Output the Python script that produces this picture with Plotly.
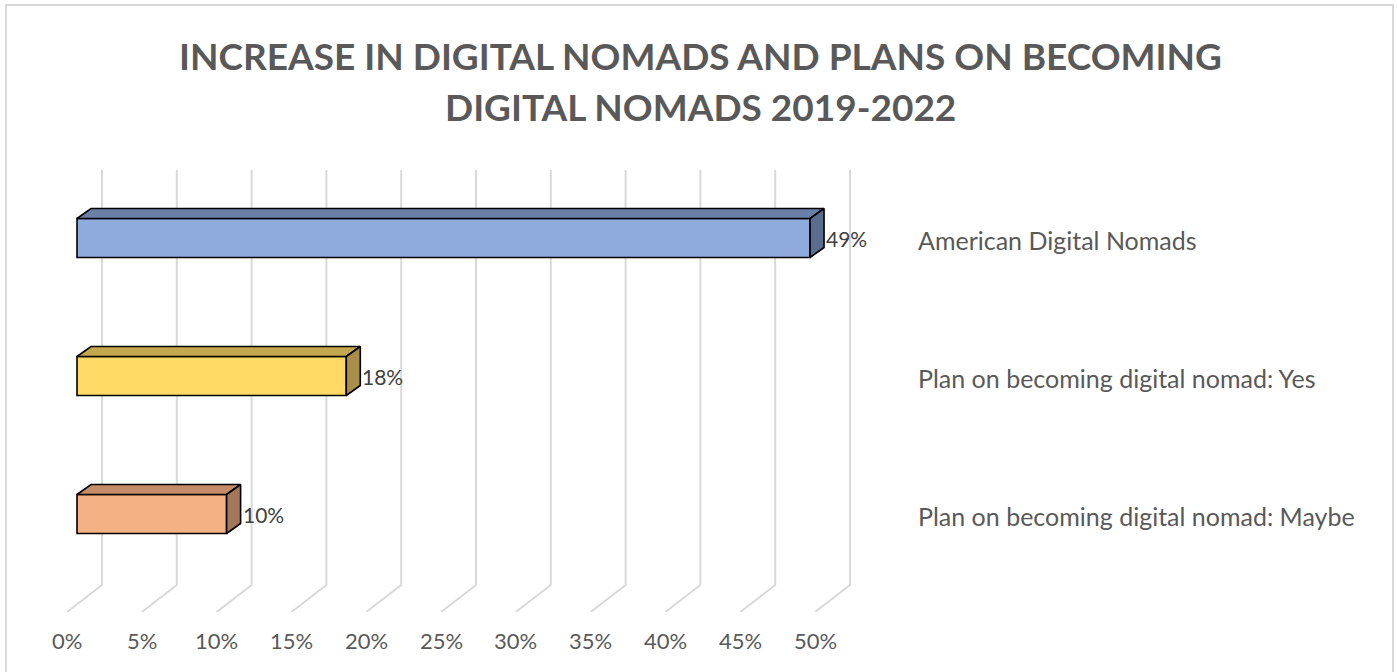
import plotly.graph_objects as go

# ---- data ----
categories = [
    "American Digital Nomads",
    "Plan on becoming digital nomad: Yes",
    "Plan on becoming digital nomad: Maybe",
]
values = [49, 18, 10]
value_labels = ["49%", "18%", "10%"]
tick_values = [0, 5, 10, 15, 20, 25, 30, 35, 40, 45, 50]
tick_labels = ["0%", "5%", "10%", "15%", "20%", "25%", "30%", "35%", "40%", "45%", "50%"]
title_lines = ["INCREASE IN DIGITAL NOMADS AND PLANS ON BECOMING", "DIGITAL NOMADS 2019-2022"]

front_colors = ["#8faadc", "#ffd966", "#f4b183"]
top_colors = ["#6b80a6", "#c3a84f", "#c48c68"]
side_colors = ["#5b6d8f", "#a89048", "#a57759"]

# ---- layout geometry (pixels) ----
W, H = 1397, 672
MARGIN_B = 60
PLOT_H = H - MARGIN_B
PX_X = 14.96          # pixels per percentage point
PX_Y = 138.0          # pixels between category rows
X0_PX = 77            # x pixel of 0% on the bars' front plane
ROW0_PX = 514         # y pixel of the lowest row centre
BAR_H_PX = 39
DEPTH_DX, DEPTH_DY = 14, 10      # bar extrusion
FLOOR_DX = -10                   # front edge of floor relative to bar front
WALL_DX = 25                     # back wall relative to bar front
FLOOR_RISE = 27                  # vertical rise from floor front to wall
WALL_TOP_PX = 170
TITLE_Y_PX = [55, 106]

x_range = [-X0_PX / PX_X, (W - X0_PX) / PX_X]
y_range = [-(PLOT_H - ROW0_PX) / PX_Y, ROW0_PX / PX_Y]
dx = DEPTH_DX / PX_X
dy = DEPTH_DY / PX_Y
half = BAR_H_PX / PX_Y / 2

n = len(categories)
rows = [n - 1 - i for i in range(n)]   # first category on top

fig = go.Figure()

# front faces
fig.add_trace(go.Bar(
    x=values, y=rows, orientation="h", width=BAR_H_PX / PX_Y,
    marker=dict(color=front_colors, line=dict(color="#000000", width=1.6)),
    hoverinfo="skip", showlegend=False,
))

# top and side faces of each bar
for v, r, tc, sc in zip(values, rows, top_colors, side_colors):
    yt, yb = r + half, r - half
    fig.add_trace(go.Scatter(
        x=[0, v, v + dx, dx, 0], y=[yt, yt, yt + dy, yt + dy, yt],
        mode="lines", fill="toself", fillcolor=tc,
        line=dict(color="#000000", width=1.6), hoverinfo="skip", showlegend=False,
    ))
    fig.add_trace(go.Scatter(
        x=[v, v, v + dx, v + dx, v], y=[yt, yb, yb + dy, yt + dy, yt],
        mode="lines", fill="toself", fillcolor=sc,
        line=dict(color="#000000", width=1.6), hoverinfo="skip", showlegend=False,
    ))

# gridlines on the back wall and floor
wall_dx = WALL_DX / PX_X
floor_dx = FLOOR_DX / PX_X
y_floor_front = y_range[0]
y_wall_bottom = y_range[0] + FLOOR_RISE / PX_Y
y_wall_top = (ROW0_PX - WALL_TOP_PX) / PX_Y
for t in tick_values:
    fig.add_shape(
        type="path", xref="x", yref="y", layer="below",
        path=(f"M {t + wall_dx} {y_wall_top} L {t + wall_dx} {y_wall_bottom} "
              f"L {t + floor_dx} {y_floor_front}"),
        line=dict(color="#d9d9d9", width=2),
    )

# value labels beside each bar
for v, r, lab in zip(values, rows, value_labels):
    fig.add_annotation(
        x=v + dx, y=r, text=lab, xref="x", yref="y", showarrow=False,
        xanchor="left", yanchor="middle", xshift=0,
        font=dict(family="Lato", size=21, color="#404040"),
    )

# percentage labels along the front edge of the floor
for t, lab in zip(tick_values, tick_labels):
    fig.add_annotation(
        x=t + floor_dx, y=y_floor_front, text=lab, xref="x", yref="y",
        showarrow=False, xanchor="center", yanchor="middle", yshift=-28,
        font=dict(family="Lato", size=22, color="#595959"),
    )

# category labels on the right
for c, r in zip(categories, rows):
    fig.add_annotation(
        x=916 / W, y=r, text=c, xref="paper", yref="y", showarrow=False,
        xanchor="left", yanchor="middle", yshift=-2,
        font=dict(family="Lato", size=25, color="#595959"),
    )

# title, one annotation per line
for line, ypx in zip(title_lines, TITLE_Y_PX):
    fig.add_annotation(
        x=700 / W, y=1 - ypx / PLOT_H, xref="paper", yref="paper",
        text="<b>" + line + "</b>", showarrow=False,
        xanchor="center", yanchor="middle", align="center",
        font=dict(family="Lato", size=37, color="#595959"),
    )

# chart border
fig.add_shape(
    type="rect", xref="paper", yref="paper",
    x0=6 / W, x1=1393 / W, y0=-MARGIN_B / PLOT_H - 0.05, y1=1 - 5 / PLOT_H,
    line=dict(color="#d9d9d9", width=2), fillcolor="rgba(0,0,0,0)", layer="below",
)

fig.update_layout(
    width=W, height=H,
    margin=dict(l=0, r=0, t=0, b=MARGIN_B),
    paper_bgcolor="#ffffff", plot_bgcolor="#ffffff",
    xaxis=dict(range=x_range, visible=False, fixedrange=True),
    yaxis=dict(range=y_range, visible=False, fixedrange=True),
    showlegend=False,
)

fig.write_html("out.html")
